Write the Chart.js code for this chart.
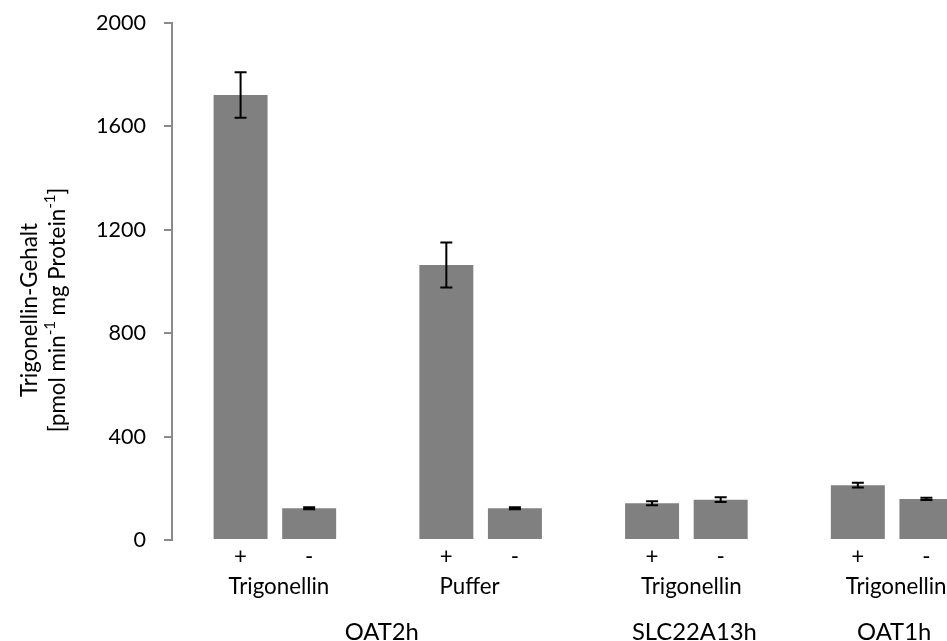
<!DOCTYPE html>
<html><head><meta charset="utf-8">
<script src="https://cdn.jsdelivr.net/npm/chart.js@4"></script>
<style>
html,body{margin:0;padding:0;background:#fff;overflow:hidden;}
#wrap{width:947px;height:641px;overflow:hidden;position:relative;background:#fff;}
canvas{display:block;}
</style></head><body>
<div id="wrap"><canvas id="c" width="1000" height="641"></canvas></div>
<script>
// ---- data ----
const yTicks = [0, 400, 800, 1200, 1600, 2000];
const signs = ['+', '-', '+', '-', '+', '-', '+', '-'];
const means = [1721, 123, 1064, 123, 142, 156, 212, 159];
const errors = [88, 4, 87, 4, 8, 9, 9, 4];
const treatments = ['Trigonellin', 'Puffer', 'Trigonellin', 'Trigonellin'];
const transporters = ['OAT2h', 'SLC22A13h', 'OAT1h'];
const treatmentsPerTransporter = [2, 1, 1];

// ---- label layout nudges (px), not data ----
const treatmentNudge = [4, -11, 5, 4];
const transporterNudge = [4, 8, 2];

// ---- build category table (one empty slot before each pair) ----
const cats = [], vals = [], errs = [], barIdx = [];
for (let t = 0; t < treatments.length; t++) {
  cats.push(''); vals.push(null); errs.push(null);
  for (let k = 0; k < 2; k++) {
    const b = t * 2 + k;
    barIdx.push(cats.length);
    cats.push(signs[b]); vals.push(means[b]); errs.push(errors[b]);
  }
}
cats.push(''); vals.push(null); errs.push(null);

const FONT = 'Lato, "Open Sans", sans-serif';
const mc = document.createElement('canvas').getContext('2d');
function fitSize(text, target) { mc.font = '100px ' + FONT; return 100 * target / mc.measureText(text).width; }
const FS2 = fitSize('Trigonellin', 101);
const FS3 = fitSize('SLC22A13h', 125);
const FST = fitSize('2000', 50);

const errorBars = {
  id: 'errorBars',
  afterDatasetsDraw(chart) {
    const ctx = chart.ctx, y = chart.scales.y, meta = chart.getDatasetMeta(0);
    ctx.save();
    ctx.strokeStyle = '#000'; ctx.lineWidth = 2;
    vals.forEach((v, i) => {
      if (v == null) return;
      const bar = meta.data[i];
      const x = bar.x, t = y.getPixelForValue(v + errs[i]), b = y.getPixelForValue(v - errs[i]);
      ctx.beginPath();
      ctx.moveTo(x, t); ctx.lineTo(x, b);
      ctx.moveTo(x - 6, t); ctx.lineTo(x + 6, t);
      ctx.moveTo(x - 6, b); ctx.lineTo(x + 6, b);
      ctx.stroke();
    });
    ctx.restore();
  }
};

const groupLabels = {
  id: 'groupLabels',
  afterDraw(chart) {
    const ctx = chart.ctx, x = chart.scales.x;
    ctx.save();
    ctx.fillStyle = '#000';
    ctx.textAlign = 'center'; ctx.textBaseline = 'alphabetic';
    ctx.font = FS2 + 'px ' + FONT;
    treatments.forEach((t, i) => {
      const cx = (x.getPixelForValue(barIdx[2*i]) + x.getPixelForValue(barIdx[2*i+1])) / 2;
      ctx.fillText(t, cx + treatmentNudge[i], 594);
    });
    ctx.font = FS3 + 'px ' + FONT;
    let start = 0;
    transporters.forEach((name, j) => {
      const n = treatmentsPerTransporter[j];
      const first = barIdx[start * 2], last = barIdx[(start + n) * 2 - 1];
      const cx = (x.getPixelForValue(first) + x.getPixelForValue(last)) / 2;
      ctx.fillText(name, cx + transporterNudge[j], 640);
      start += n;
    });
    ctx.restore();
  }
};

const yTitle = {
  id: 'yTitle',
  afterDraw(chart) {
    const ctx = chart.ctx;
    const cy = 310;
    ctx.save();
    ctx.fillStyle = '#000';
    ctx.textBaseline = 'middle';
    ctx.save();
    ctx.translate(30, cy); ctx.rotate(-Math.PI / 2);
    ctx.font = FS2 + 'px ' + FONT; ctx.textAlign = 'center';
    ctx.fillText('Trigonellin-Gehalt', 0, 0);
    ctx.restore();
    const parts = [['[pmol min', false], ['-1', true], [' mg Protein', false], ['-1', true], [']', false]];
    const big = FS2 + 'px ' + FONT, small = Math.round(FS2 * 0.65) + 'px ' + FONT;
    let total = 0;
    parts.forEach(p => { ctx.font = p[1] ? small : big; total += ctx.measureText(p[0]).width; });
    ctx.save();
    ctx.translate(58, cy); ctx.rotate(-Math.PI / 2);
    ctx.textAlign = 'left';
    let px = -total / 2;
    parts.forEach(p => {
      ctx.font = p[1] ? small : big;
      ctx.fillText(p[0], px, p[1] ? -8 : 0);
      px += ctx.measureText(p[0]).width;
    });
    ctx.restore();
    ctx.restore();
  }
};

new Chart(document.getElementById('c'), {
  type: 'bar',
  data: {
    labels: cats,
    datasets: [{
      data: vals, backgroundColor: '#808080', borderWidth: 0,
      barPercentage: 0.787, categoryPercentage: 1
    }]
  },
  options: {
    responsive: false, animation: false, devicePixelRatio: 1,
    layout: { padding: { top: 23, right: 5, left: 0, bottom: 0 } },
    plugins: { legend: { display: false }, tooltip: { enabled: false } },
    scales: {
      x: {
        type: 'category', offset: false,
        grid: { display: false, drawTicks: false },
        border: { display: false },
        ticks: { autoSkip: false, maxRotation: 0, minRotation: 0, padding: 3, color: '#000', font: { family: FONT, size: FS2 } },
        afterFit(s) { s.height = 101; }
      },
      y: {
        min: 0, max: 2000,
        afterBuildTicks(s) { s.ticks = yTicks.map(v => ({ value: v })); },
        ticks: { color: '#000', padding: 18, font: { family: FONT, size: FST, lineHeight: 0.3 }, callback: v => String(v) },
        grid: { display: true, drawOnChartArea: false, drawTicks: true, tickLength: 8, color: '#8a8a8a', lineWidth: 2 },
        border: { display: true, color: '#8a8a8a', width: 2 },
        afterFit(s) { s.width = 172; }
      }
    }
  },
  plugins: [errorBars, groupLabels, yTitle]
});
</script>
</body></html>
